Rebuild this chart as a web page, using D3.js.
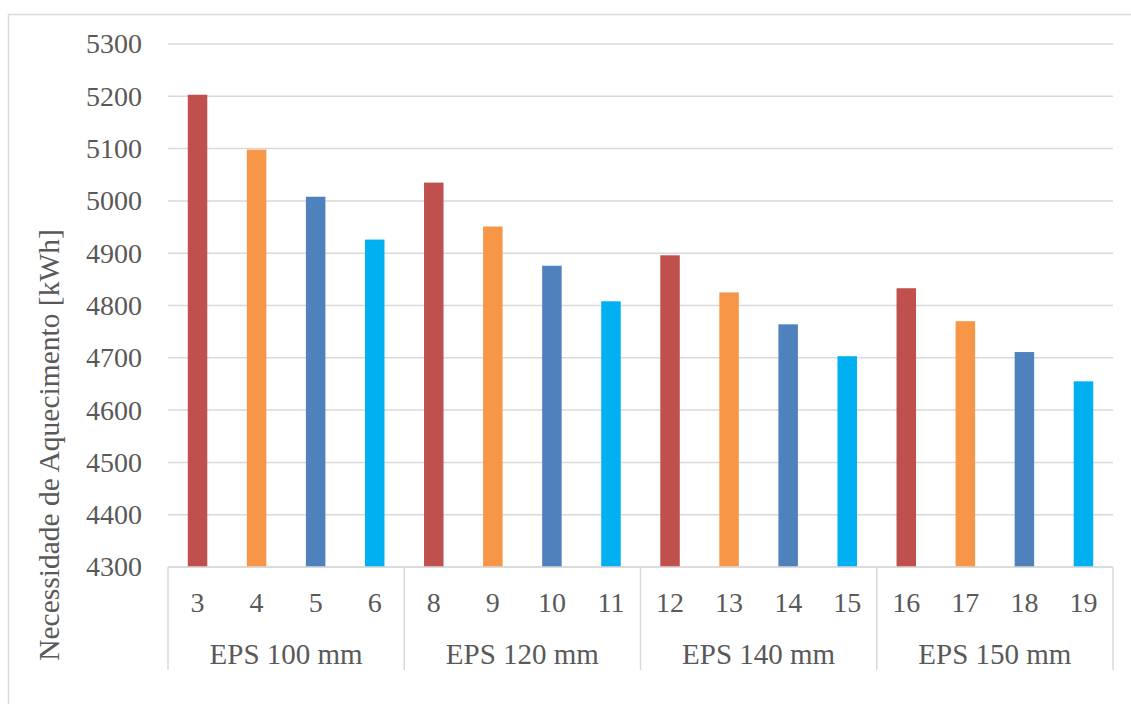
<!DOCTYPE html>
<html>
<head>
<meta charset="utf-8">
<script src="https://cdn.jsdelivr.net/npm/d3@7"></script>
<style>
  html, body { margin: 0; padding: 0; background: #fff; }
  svg { display: block; }
  text { font-family: "Liberation Serif", "Times New Roman", serif; fill: #595959; }
</style>
</head>
<body>
<svg id="chart" width="1131" height="704"></svg>
<script>
// Heating demand per simulated case, grouped by EPS insulation thickness
const groups = ["EPS 100 mm", "EPS 120 mm", "EPS 140 mm", "EPS 150 mm"];
const cases = ["3", "4", "5", "6", "8", "9", "10", "11", "12", "13", "14", "15", "16", "17", "18", "19"];
const caseGroup = [0, 0, 0, 0, 1, 1, 1, 1, 2, 2, 2, 2, 3, 3, 3, 3];
const heating = [5203, 5098, 5008, 4926, 5035, 4951, 4876, 4808, 4896, 4825, 4764, 4703, 4833, 4770, 4711, 4655];
const yTicks = [4300, 4400, 4500, 4600, 4700, 4800, 4900, 5000, 5100, 5200, 5300];
const barColors = ["#C0504D", "#F79646", "#4F81BD", "#00B0F0"];
const yTitle = "Necessidade de Aquecimento [kWh]";

const svg = d3.select("#chart");
const plotLeft = 168, plotRight = 1113, plotTop = 44, plotBottom = 567;

// Chart frame
svg.append("rect")
  .attr("x", 8.5).attr("y", 14.5)
  .attr("width", 1140).attr("height", 720)
  .attr("fill", "none").attr("stroke", "#d9d9d9").attr("stroke-width", 1.5);

const x = d3.scaleBand()
  .domain(d3.range(cases.length))
  .range([plotLeft, plotRight])
  .paddingInner(0.67)
  .paddingOuter(0.335);

const y = d3.scaleLinear().domain([4300, 5300]).range([plotBottom, plotTop]);

// Horizontal gridlines
svg.append("g")
  .selectAll("line")
  .data(yTicks)
  .join("line")
  .attr("x1", plotLeft).attr("x2", plotRight)
  .attr("y1", d => y(d)).attr("y2", d => y(d))
  .attr("stroke", "#d9d9d9").attr("stroke-width", 1.5);

// Y axis labels
const yAxis = d3.axisLeft(y).tickValues(yTicks).tickSize(0).tickPadding(26).tickFormat(d3.format("d"));
const gy = svg.append("g").attr("transform", `translate(${plotLeft},0)`).call(yAxis);
gy.select(".domain").remove();
gy.selectAll("text")
  .style("font-family", "'Liberation Serif', 'Times New Roman', serif")
  .style("font-size", "28px")
  .attr("fill", "#595959");

// Bars
svg.append("g")
  .selectAll("rect")
  .data(heating)
  .join("rect")
  .attr("x", (d, i) => x(i))
  .attr("width", x.bandwidth())
  .attr("y", d => y(d))
  .attr("height", d => y(4300) - y(d))
  .attr("fill", (d, i) => barColors[i % 4]);

// Category axis: baseline and group separators
const step = x.step();
const axisBottom = 670;
svg.append("line")
  .attr("x1", plotLeft).attr("x2", plotRight)
  .attr("y1", plotBottom).attr("y2", plotBottom)
  .attr("stroke", "#d9d9d9").attr("stroke-width", 1.5);

const groupBounds = d3.range(groups.length + 1).map(g => plotLeft + g * 4 * step);
svg.append("g")
  .selectAll("line")
  .data(groupBounds)
  .join("line")
  .attr("x1", d => d).attr("x2", d => d)
  .attr("y1", plotBottom).attr("y2", axisBottom)
  .attr("stroke", "#d9d9d9").attr("stroke-width", 1.5);

// Case numbers
svg.append("g")
  .selectAll("text")
  .data(cases)
  .join("text")
  .attr("x", (d, i) => x(i) + x.bandwidth() / 2)
  .attr("y", 602)
  .attr("text-anchor", "middle")
  .attr("dominant-baseline", "central")
  .style("font-size", "28px")
  .text(d => d);

// Group labels
svg.append("g")
  .selectAll("text")
  .data(groups)
  .join("text")
  .attr("x", (d, g) => plotLeft + (g * 4 + 2) * step)
  .attr("y", 654)
  .attr("text-anchor", "middle")
  .attr("dominant-baseline", "central")
  .style("font-size", "29px")
  .text(d => d);

// Y axis title
svg.append("text")
  .attr("transform", "translate(49,445) rotate(-90)")
  .attr("text-anchor", "middle")
  .attr("dominant-baseline", "central")
  .style("font-size", "29.5px")
  .text(yTitle);
</script>
</body>
</html>
